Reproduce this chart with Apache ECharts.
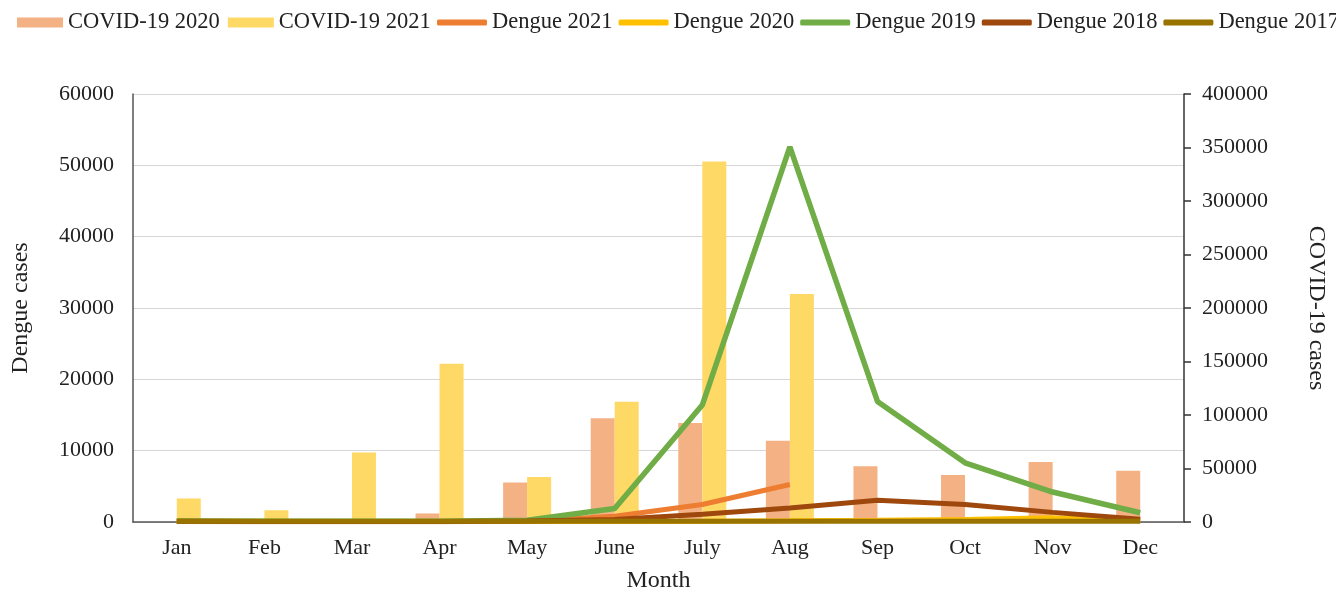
<!DOCTYPE html>
<html>
<head>
<meta charset="utf-8">
<script src="https://cdn.jsdelivr.net/npm/echarts@6/dist/echarts.min.js"></script>
<style>html,body{margin:0;padding:0;background:#fff}#c{width:1336px;height:598px}</style>
</head>
<body>
<div id="c"></div>
<script>
const months = ['Jan','Feb','Mar','Apr','May','June','July','Aug','Sep','Oct','Nov','Dec'];
const covid2020 = [0, 0, 0, 8000, 37000, 97000, 92500, 76000, 52000, 44000, 56000, 48000];
const covid2021 = [22000, 11000, 65000, 148000, 42000, 112500, 337000, 213000, null, null, null, null];
const dengue2021 = [60, 50, 40, 40, 150, 800, 2450, 5250, null, null, null, null];
const dengue2020 = [120, 100, 80, 60, 60, 80, 120, 180, 250, 350, 600, 200];
const dengue2019 = [150, 100, 100, 100, 250, 1900, 16400, 52600, 16900, 8300, 4200, 1300];
const dengue2018 = [100, 80, 80, 80, 150, 350, 1100, 1950, 3050, 2450, 1350, 400];
const dengue2017 = [100, 100, 100, 100, 100, 100, 100, 100, 100, 100, 100, 100];
const leftTicks = {min: 0, max: 60000, interval: 10000};
const rightTicks = {min: 0, max: 400000, interval: 50000};

const FONT = 'Liberation Serif';
const TXT = '#222';
const chart = echarts.init(document.getElementById('c'));
function lineSeries(name, data, color, width) {
  return {name, type: 'line', yAxisIndex: 0, data, symbol: 'none', showSymbol: false,
    lineStyle: {color, width: width || 5}, itemStyle: {color}, z: 3};
}
chart.setOption({
  animation: false,
  textStyle: {fontFamily: FONT, color: TXT},
  legend: [
    {left: 17, top: 11, padding: 0, width: 1000, itemWidth: 46, itemHeight: 10, itemGap: 8, icon: 'rect',
      textStyle: {fontFamily: FONT, fontSize: 22.5, color: TXT}, data: ['COVID-19 2020','COVID-19 2021']},
    {left: 437, top: 11, padding: 0, width: 2000, itemWidth: 50, itemHeight: 6, itemGap: 6, icon: 'roundRect',
      textStyle: {fontFamily: FONT, fontSize: 22.5, color: TXT},
      data: ['Dengue 2021','Dengue 2020','Dengue 2019','Dengue 2018','Dengue 2017']}
  ],
  grid: {left: 133, right: 150, top: 94, bottom: 71},
  xAxis: {
    type: 'category', data: months, boundaryGap: true,
    axisLine: {lineStyle: {color: '#555', width: 1.5}},
    axisTick: {show: false},
    axisLabel: {fontFamily: FONT, fontSize: 22, color: TXT, margin: 15},
    name: 'Month', nameLocation: 'middle', nameGap: 47,
    nameTextStyle: {fontFamily: FONT, fontSize: 24, color: TXT}
  },
  yAxis: [
    {type: 'value', position: 'left', min: leftTicks.min, max: leftTicks.max, interval: leftTicks.interval,
      axisLine: {show: true, lineStyle: {color: '#555', width: 1.5}},
      axisTick: {show: false},
      splitLine: {lineStyle: {color: '#d6d6d6', width: 1.2}},
      axisLabel: {fontFamily: FONT, fontSize: 22, color: TXT, margin: 19, formatter: v => String(v)},
      name: 'Dengue cases', nameLocation: 'middle', nameGap: 100, nameRotate: 90,
      nameTextStyle: {fontFamily: FONT, fontSize: 24, color: TXT}},
    {type: 'value', position: 'right', min: rightTicks.min, max: rightTicks.max, interval: rightTicks.interval,
      axisLine: {show: true, lineStyle: {color: '#333', width: 1.5}},
      axisTick: {show: true, inside: false, length: 7, lineStyle: {color: '#333', width: 1.5}},
      splitLine: {show: false},
      axisLabel: {fontFamily: FONT, fontSize: 22, color: TXT, margin: 18, formatter: v => String(v)},
      name: 'COVID-19 cases', nameLocation: 'middle', nameGap: 120, nameRotate: -90,
      nameTextStyle: {fontFamily: FONT, fontSize: 24, color: TXT}}
  ],
  series: [
    {name: 'COVID-19 2020', type: 'bar', yAxisIndex: 1, data: covid2020, barWidth: 24, barGap: '0%',
      itemStyle: {color: '#F4B183'}, z: 2},
    {name: 'COVID-19 2021', type: 'bar', yAxisIndex: 1, data: covid2021, barWidth: 24, barGap: '0%',
      itemStyle: {color: '#FFD966'}, z: 2},
    lineSeries('Dengue 2021', dengue2021, '#ED7D31'),
    lineSeries('Dengue 2020', dengue2020, '#FFC000'),
    lineSeries('Dengue 2019', dengue2019, '#70AD47', 5.5),
    lineSeries('Dengue 2018', dengue2018, '#9E480E'),
    lineSeries('Dengue 2017', dengue2017, '#997300')
  ]
});
</script>
</body>
</html>
